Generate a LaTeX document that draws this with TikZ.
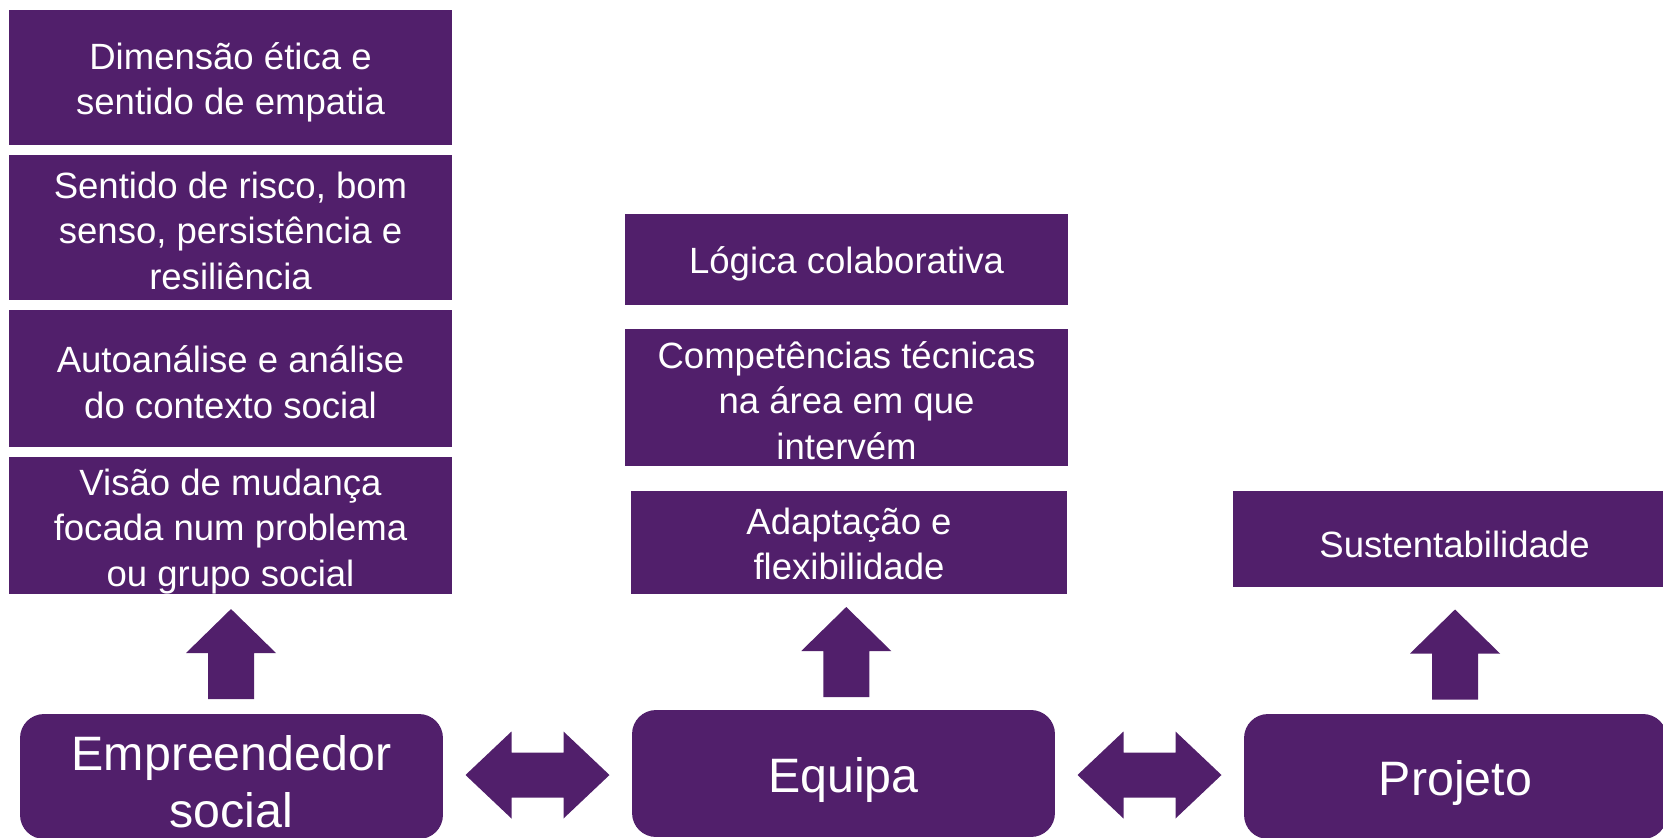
\documentclass[tikz,border=0pt]{standalone}
\usepackage{fontspec}
\setmainfont{Liberation Sans}
\usetikzlibrary{positioning, calc}
\definecolor{roxo}{HTML}{511F6B}
\newcommand{\alto}[1]{\rule{0pt}{#1}}

\begin{document}
\begin{tikzpicture}[x=0.02cm, y=-0.02cm, on grid,
    caixa/.style={fill=roxo, text=white, align=center, inner sep=0pt,
      minimum width=8.86cm, font=\fontsize{20.8}{26}\selectfont,
      execute at begin node={\rule{0pt}{1em}}},
    base/.style={caixa, rounded corners=0.48cm, minimum width=8.46cm,
      minimum height=2.5cm, font=\fontsize{27.5}{32.5}\selectfont},
    cima/.pic={\fill[roxo] (0,-45) -- (45,-1) -- (23,-1) -- (23,45) -- (-23,45)
      -- (-23,-1) -- (-45,-1) -- cycle;},
    dupla/.pic={\fill[roxo] (-72,0) -- (-26,-43.5) -- (-26,-22.5) -- (26,-22.5)
      -- (26,-43.5) -- (72,0) -- (26,43.5) -- (26,22.5) -- (-26,22.5)
      -- (-26,43.5) -- cycle;}]

  \path[use as bounding box, clip] (0,0) rectangle (1663,838);

  \node[caixa, minimum height=2.7cm]  (etica) at (230.5,77.5) {\alto{1em}Dimensão ética e\\sentido de empatia};
  \node[caixa, minimum height=2.9cm]  (risco) [below=3cm of etica]  {\alto{0.9em}Sentido de risco, bom\\senso, persistência e\\resiliência};
  \node[caixa, minimum height=2.74cm] (auto)  [below=3.02cm of risco] {\alto{0.95em}Autoanálise e análise\\do contexto social};
  \node[caixa, minimum height=2.74cm] (visao) [below=2.94cm of auto] {\alto{1.05em}Visão de mudança\\focada num problema\\ou grupo social};
  \node[base]                         (emp)   at (231.5,776.5) {\alto{0.95em}Empreendedor\\social};

  \node[caixa, minimum height=1.82cm] (logica) at (846.5,259.5) {Lógica colaborativa};
  \node[caixa, minimum height=2.74cm] (comp)   [below=2.76cm of logica] {\alto{0.9em}Competências técnicas\\na área em que\\intervém};
  \node[caixa, minimum height=2.06cm, minimum width=8.72cm] (adapt) at (849,542.5) {\alto{0.8em}Adaptação e\\flexibilidade};
  \node[base, minimum height=2.54cm]  (equipa) at (843.5,773.5) {Equipa};

  \node[caixa, minimum height=1.92cm] (sust)  at (1454.5,539) {Sustentabilidade};
  \node[base]                         (proj)  at (1455.5,776.5) {Projeto};

  \pic at ($(visao.south)!0.5!(emp.north)$) {cima};
  \pic at ($(adapt.south)!0.5!(equipa.north)$) {cima};
  \pic at ($(sust.south)!0.5!(proj.north)+(0,4)$) {cima};
  \pic at ($(emp.east)!0.5!(equipa.west)$) {dupla};
  \pic at ($(equipa.east)!0.5!(proj.west)$) {dupla};
\end{tikzpicture}
\end{document}
